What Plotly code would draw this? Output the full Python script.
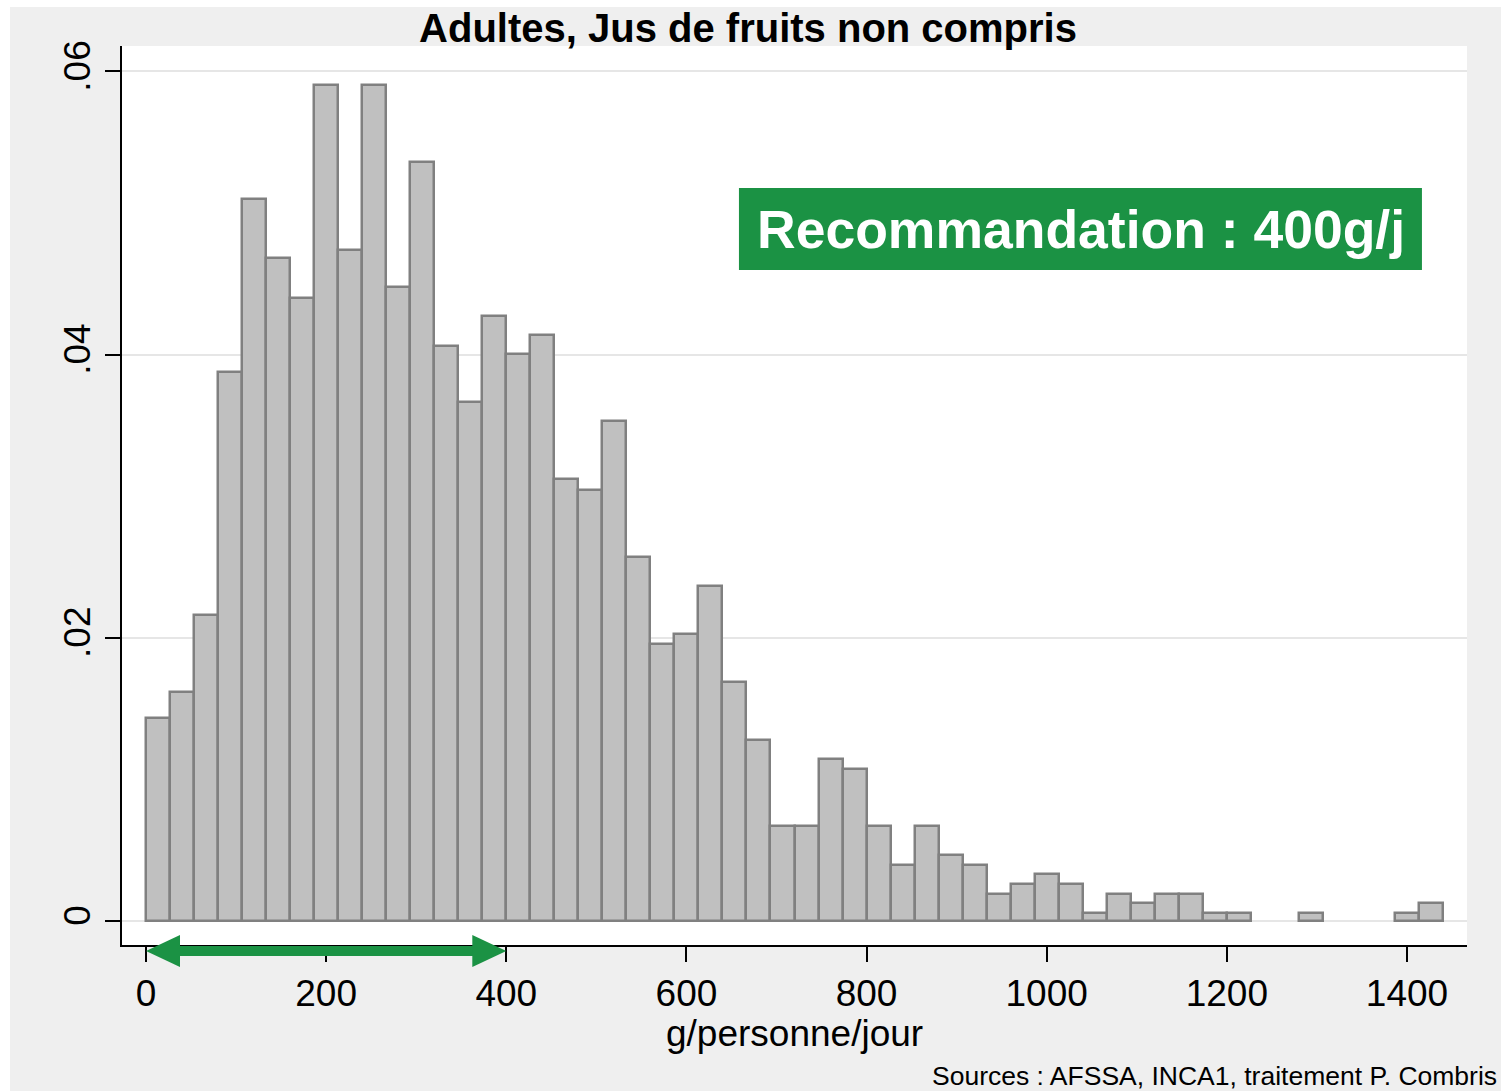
import plotly.graph_objects as go

# histogram bins (g/personne/jour) and density per bin
bin_start = 0
bin_width = 1440 / 54
density = [
    0.01433, 0.01619, 0.02160, 0.03876, 0.05101, 0.04682, 0.04402, 0.05908,
    0.04741, 0.05908, 0.04478, 0.05360, 0.04061, 0.03666, 0.04271, 0.04007,
    0.04136, 0.03120, 0.03047, 0.03532, 0.02572, 0.01953, 0.02026, 0.02367,
    0.01689, 0.01278, 0.00670, 0.00670, 0.01144, 0.01073, 0.00670, 0.00395,
    0.00670, 0.00466, 0.00395, 0.00190, 0.00261, 0.00332, 0.00261, 0.00056,
    0.00190, 0.00127, 0.00190, 0.00190, 0.00056, 0.00056, 0, 0,
    0.00056, 0, 0, 0, 0.00056, 0.00127,
]
x_ticks = [0, 200, 400, 600, 800, 1000, 1200, 1400]
y_ticks = [0, 0.02, 0.04, 0.06]
y_ticktext = ["0", ".02", ".04", ".06"]
reco_range = [0, 400]

# empty bins are not drawn at all
centers = [bin_start + (i + 0.5) * bin_width for i, d in enumerate(density) if d > 0]
heights = [d for d in density if d > 0]

FONT = "Liberation Sans, Arial, sans-serif"
GREEN = "#1b9244"

fig = go.Figure()
fig.add_bar(x=centers, y=heights, width=bin_width,
            marker=dict(color="#c0c0c0", line=dict(color="#808080", width=2.5)),
            showlegend=False)

# double arrow for the 0-400 recommended range, drawn under the x axis
y0 = -0.0067
head_len = 37.7
head_h = 0.0178
a, b = reco_range
fig.add_shape(type="line", xref="x", yref="paper", x0=a + head_len * 0.8, x1=b - head_len * 0.8,
              y0=y0, y1=y0, line=dict(color=GREEN, width=10), layer="above")
fig.add_shape(type="path", xref="x", yref="paper", fillcolor=GREEN, line=dict(width=0),
              path=f"M {a} {y0} L {a + head_len} {y0 + head_h} L {a + head_len} {y0 - head_h} Z",
              layer="above")
fig.add_shape(type="path", xref="x", yref="paper", fillcolor=GREEN, line=dict(width=0),
              path=f"M {b} {y0} L {b - head_len} {y0 + head_h} L {b - head_len} {y0 - head_h} Z",
              layer="above")

# green recommendation box
fig.add_shape(type="rect", xref="paper", yref="paper", x0=0.4587, x1=0.9665, y0=0.7508, y1=0.8420,
              fillcolor=GREEN, line=dict(width=0), layer="above")
fig.add_annotation(text="<b>Recommandation : 400g/j</b>", xref="paper", yref="paper",
                   x=0.7127, y=0.7964, xanchor="center", yanchor="middle", showarrow=False,
                   font=dict(family=FONT, size=53.5, color="white"))

fig.add_annotation(text="g/personne/jour", xref="paper", yref="paper",
                   x=0.5, y=-0.0985, xanchor="center", yanchor="middle", showarrow=False,
                   font=dict(family=FONT, size=37, color="black"))

fig.add_annotation(text="Sources : AFSSA, INCA1, traitement P. Combris", xref="paper", yref="paper",
                   x=1.0238, y=-0.1457, xanchor="right", yanchor="middle", showarrow=False,
                   font=dict(family=FONT, size=26.5, color="black"))

fig.update_layout(
    width=1491, height=1084,
    margin=dict(l=112, r=34, t=39, b=146),
    paper_bgcolor="#efefef", plot_bgcolor="white",
    font=dict(family=FONT, color="black"),
    title=dict(text="<b>Adultes, Jus de fruits non compris</b>", x=0.495, xanchor="center",
               y=0.9807, yanchor="middle", font=dict(family=FONT, size=40, color="black")),
    bargap=0,
)
fig.update_xaxes(range=[-bin_width, 1440 + bin_width], tickvals=x_ticks, ticks="outside",
                 ticklen=15, tickwidth=2, tickcolor="black", showline=True, linecolor="black",
                 linewidth=2, showgrid=False, zeroline=False,
                 tickfont=dict(family=FONT, size=37))
fig.update_yaxes(range=[-0.0017, 0.0618], tickvals=y_ticks, ticktext=y_ticktext, tickangle=-90,
                 ticks="outside", ticklen=15, tickwidth=2, tickcolor="black", showline=True,
                 linecolor="black", linewidth=2, showgrid=True, gridcolor="#e6e6e6", gridwidth=2,
                 zeroline=False, tickfont=dict(family=FONT, size=37))

# white page border as in the original export
fig.write_html("out.html", post_script="document.body.style.margin='7px 0 0 10px';")
